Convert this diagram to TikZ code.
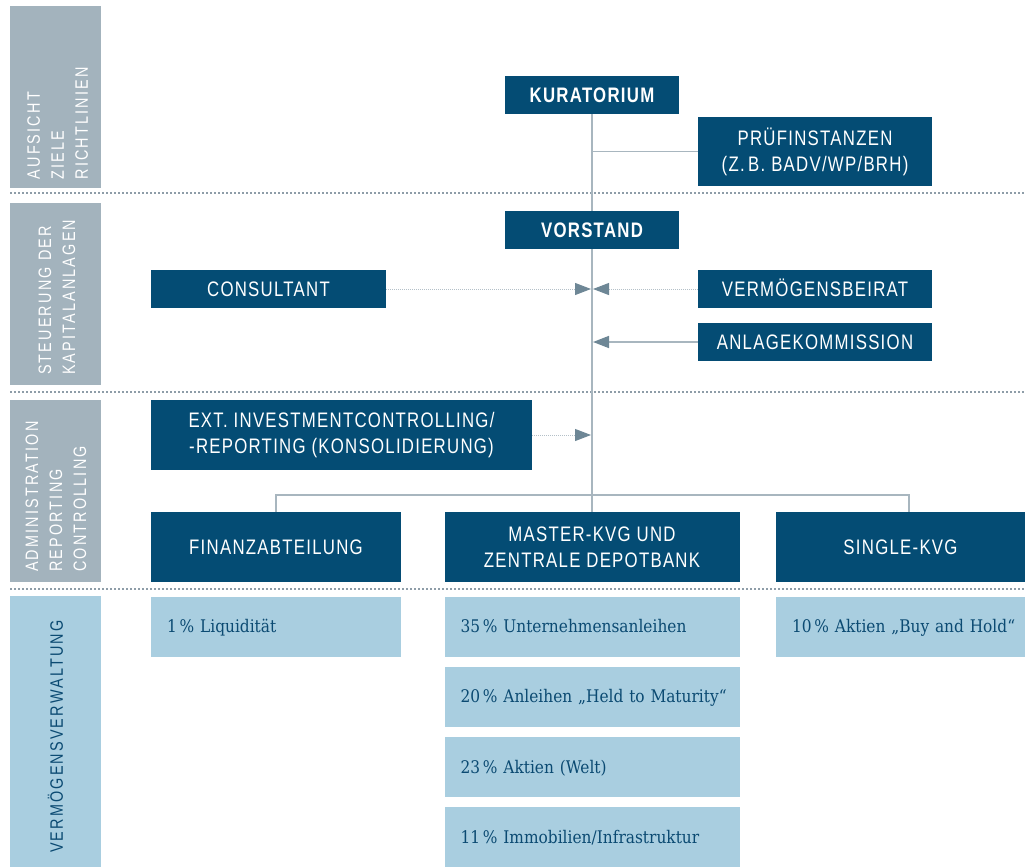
\documentclass[tikz,border=0pt]{standalone}
\usepackage{fontspec}
\usetikzlibrary{arrows.meta}
\newfontfamily\boxfont{Liberation Sans}[FakeStretch=0.8,LetterSpace=6]
\newfontfamily\bandfont{Liberation Sans}[FakeStretch=0.8,LetterSpace=12]
\newfontfamily\slabfont{DejaVu Serif}[FakeStretch=0.885]
\definecolor{dblue}{HTML}{044C74}
\definecolor{lblue}{HTML}{A9CEE0}
\definecolor{ltext}{HTML}{0B4A72}
\definecolor{bandgray}{HTML}{A3B3BD}
\definecolor{sepgray}{HTML}{8E9DA8}
\definecolor{linegray}{HTML}{A8B6BF}
\definecolor{dotgray}{HTML}{B4C0C8}
\definecolor{arrowc}{HTML}{6E8796}
\begin{document}
\begin{tikzpicture}[x=1pt,y=-1pt,
  dbox/.style={fill=dblue,text=white,inner sep=0pt,outer sep=0pt,align=center,font=\boxfont\fontsize{21}{26}\selectfont},
  onel/.style={text height=15pt,text depth=0pt},
  lbox/.style={fill=lblue,text=ltext,inner xsep=16pt,inner ysep=0pt,outer sep=0pt,align=left,text height=12.7pt,text depth=0pt,minimum height=60pt,font=\slabfont\fontsize{17.4}{20}\selectfont},
  bandtext/.style={rotate=90,anchor=south west,inner sep=0pt,align=left,text=white,font=\bandfont\fontsize{18}{24}\selectfont},
  sepline/.style={draw=sepgray,line width=1.7pt,dash pattern=on 1.7pt off 2.3pt},
  conn/.style={draw=linegray,line width=1.6pt},
  dotconn/.style={draw=dotgray,line width=1pt,dash pattern=on 1pt off 1pt},
  headarrow/.style={-{Triangle[length=16pt,width=12pt,color=arrowc]}}
]
\useasboundingbox (0,0) rectangle (1025,867);
% left bands
\fill[bandgray] (10,6) rectangle (101,188);
\fill[bandgray] (10,203) rectangle (101,385);
\fill[bandgray] (10,400) rectangle (101,582);
\fill[lblue] (10,596) rectangle (101,867);
\node[bandtext] (t1) at (88.3,179.5) {AUFSICHT\\ZIELE\\RICHTLINIEN};
\node[bandtext] (t2) at (75.5,375) {STEUERUNG DER\\KAPITALANLAGEN};
\node[bandtext] (t3) at (86.5,572) {ADMINISTRATION\\REPORTING\\CONTROLLING};
\node[bandtext,text=ltext] (t4) at (63.3,853) {VERMÖGENSVERWALTUNG};
% separators
\draw[sepline] (10,193) -- (1025,193);
\draw[sepline] (10,392) -- (1025,392);
\draw[sepline] (10,589) -- (1025,589);
% coordinates on the spine
\coordinate (jp) at (592,151.5);
\coordinate (jcl) at (591,289);
\coordinate (jcr) at (593,289);
\coordinate (ja) at (593,342);
\coordinate (je) at (591,435);
\coordinate (brr) at (909,495);
% dark boxes
\node[dbox,onel,minimum width=174pt,minimum height=38pt] (kur) at (592,95) {\bfseries KURATORIUM};
\node[dbox,minimum width=234pt,minimum height=69pt] (pruef) at (815,151.5) {PRÜFINSTANZEN\\(Z.\,B. BADV/WP/BRH)};
\node[dbox,onel,minimum width=174pt,minimum height=38pt] (vor) at (592,230) {\bfseries VORSTAND};
\node[dbox,onel,minimum width=235pt,minimum height=38pt] (cons) at (268.5,289) {CONSULTANT};
\node[dbox,onel,minimum width=234pt,minimum height=38pt] (vbr) at (815,289) {VERMÖGENSBEIRAT};
\node[dbox,onel,minimum width=234pt,minimum height=38pt] (anl) at (815,342) {ANLAGEKOMMISSION};
\node[dbox,minimum width=381pt,minimum height=70pt] (ext) at (341.5,435) {EXT. INVESTMENTCONTROLLING/\\-REPORTING (KONSOLIDIERUNG)};
\node[dbox,onel,minimum width=250pt,minimum height=70pt] (fin) at (276,547) {FINANZABTEILUNG};
\node[dbox,minimum width=295pt,minimum height=70pt] (mas) at (592,547) {MASTER-KVG UND\\ZENTRALE DEPOTBANK};
\node[dbox,onel,minimum width=249pt,minimum height=70pt] (sgl) at (900.5,547) {SINGLE-KVG};
% light boxes
\node[lbox,text width=218pt] (liq) at (276,626.5) {\mbox{1\,\% Liquidität}};
\node[lbox,text width=263pt] (m1) at (592,626.5) {\mbox{35\,\% Unternehmensanleihen}};
\node[lbox,text width=263pt] (m2) at (592,696.5) {\mbox{20\,\% Anleihen „Held to Maturity“}};
\node[lbox,text width=263pt] (m3) at (592,767) {\mbox{23\,\% Aktien (Welt)}};
\node[lbox,text width=263pt] (m4) at (592,837) {\mbox{11\,\% Immobilien/Infrastruktur}};
\node[lbox,text width=217pt] (s1) at (900.5,626.5) {\mbox{10\,\% Aktien „Buy and Hold“}};
% connectors
\begin{scope}[on background layer/.try]
\end{scope}
\draw[conn] (kur.south) -- (vor.north);
\draw[conn] (vor.south) -- (mas.north);
\draw[conn] (pruef.west) -- (jp);
\draw[conn] (fin.north) |- (brr) -- (brr |- sgl.north);
\draw[dotconn,headarrow] (cons.east) -- (jcl);
\draw[dotconn,headarrow] (vbr.west) -- (jcr);
\draw[conn,headarrow] (anl.west) -- (ja);
\draw[dotconn,headarrow] (ext.east) -- (je);
\end{tikzpicture}
\end{document}
